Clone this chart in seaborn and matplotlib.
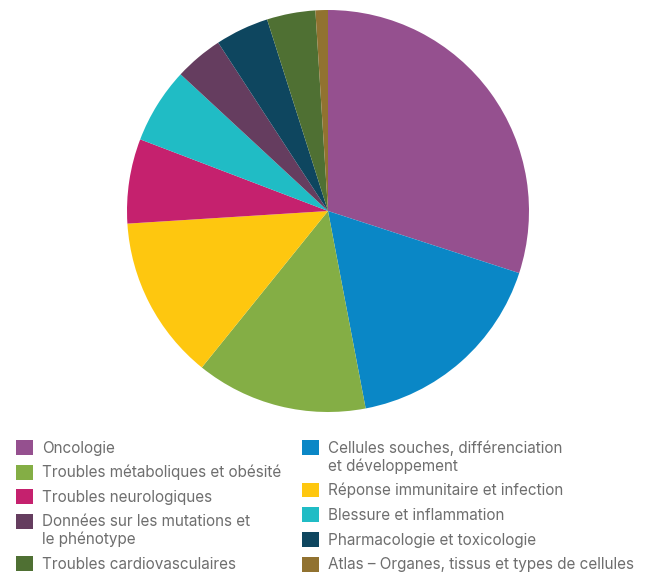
import matplotlib
matplotlib.use("Agg")
import matplotlib.pyplot as plt
import seaborn as sns

# Data (percent share, clockwise from 12 o'clock)
categories = [
    "Oncologie",
    "Cellules souches, différenciation\net développement",
    "Troubles métaboliques et obésité",
    "Réponse immunitaire et infection",
    "Troubles neurologiques",
    "Blessure et inflammation",
    "Données sur les mutations et\nle phénotype",
    "Pharmacologie et toxicologie",
    "Troubles cardiovasculaires",
    "Atlas – Organes, tissus et types de cellules",
]
shares = [30.0, 17.0, 13.8, 13.2, 6.8, 6.1, 3.9, 4.3, 3.9, 1.0]
colors = ["#95508F", "#0A87C6", "#84AE45", "#FEC70F", "#C5216E",
          "#20BCC5", "#653D5F", "#0E465F", "#4F7033", "#917230"]

sns.set_theme(style="white")
plt.rcParams["font.family"] = ["Inter", "DejaVu Sans"]
palette = sns.color_palette(colors)

fig = plt.figure(figsize=(6.49, 5.73), dpi=100)
W, H = 649, 573
cx, cy, r = 328, 211, 201
ax = fig.add_axes([(cx - r) / W, (H - cy - r) / H, 2 * r / W, 2 * r / H])
wedges, _ = ax.pie(shares, colors=palette, startangle=90, counterclock=False,
                   radius=1, wedgeprops=dict(linewidth=0))
ax.set_xlim(-1, 1)
ax.set_ylim(-1, 1)
ax.set_aspect("equal")
ax.axis("off")

# legend split in two columns like the reference
left_idx = [0, 2, 4, 6, 8]
right_idx = [1, 3, 5, 7, 9]
common = dict(loc="upper left", frameon=False, fontsize=11.0,
              handlelength=1.11, handleheight=1.11, handletextpad=0.59,
              labelspacing=0.6, borderpad=0, borderaxespad=0,
              labelcolor="#6e6e6e")
leg1 = fig.legend([wedges[i] for i in left_idx], [categories[i] for i in left_idx],
                  bbox_to_anchor=(16 / W, 1 - 440 / H), **common)
leg2 = fig.legend([wedges[i] for i in right_idx], [categories[i] for i in right_idx],
                  bbox_to_anchor=(302 / W, 1 - 440 / H), **common)
for leg in (leg1, leg2):
    for t in leg.get_texts():
        t.set_linespacing(1.2)
    # put the square next to the first line of two-line labels
    for col in leg._legend_handle_box.get_children():
        for row in col.get_children():
            txt = row.get_children()[1]
            if "\n" in txt.get_text():
                row.align = "top"

fig.savefig("out.png", dpi=100)
